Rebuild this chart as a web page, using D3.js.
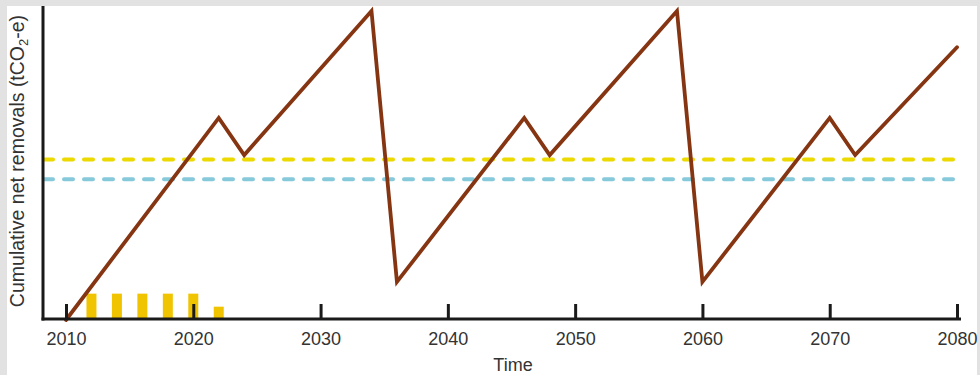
<!DOCTYPE html>
<html>
<head>
<meta charset="utf-8">
<script src="https://cdn.jsdelivr.net/npm/d3@7"></script>
<style>
  html, body { margin: 0; padding: 0; background: #e2e2e2; }
  svg { display: block; }
  text { font-family: "Liberation Sans", Arial, sans-serif; fill: #333; }
</style>
</head>
<body>
<svg id="chart" width="980" height="375"></svg>
<script>
// ---- data ----
const years = [2010, 2022, 2024, 2034, 2036, 2046, 2048, 2058, 2060, 2070, 2072, 2080];
const removals = [0, 65.2, 53.2, 99.7, 12.3, 65.2, 53.2, 99.7, 12.3, 65.2, 53.2, 88];
const barYears = [2012, 2014, 2016, 2018, 2020, 2022];
const barValues = [8.5, 8.5, 8.5, 8.5, 8.5, 4.3];
const yellowLevel = 51.8;
const blueLevel = 45.4;
const tickYears = [2010, 2020, 2030, 2040, 2050, 2060, 2070, 2080];
const xTitle = "Time";

const svg = d3.select("#chart");
svg.append("rect").attr("x", 7).attr("y", 6).attr("width", 970).attr("height", 369).attr("fill", "#ffffff");

const x = d3.scaleLinear().domain([2010, 2080]).range([66, 957]);
const y = d3.scaleLinear().domain([0, 100]).range([320, 10]);
const axisLeftX = 43, axisRightX = 961, axisY = 319;

// bars
svg.append("g").selectAll("rect").data(barYears).join("rect")
  .attr("x", d => x(d) - 5)
  .attr("width", 10)
  .attr("y", (d, i) => y(barValues[i]))
  .attr("height", (d, i) => axisY - y(barValues[i]))
  .attr("fill", "#f0c400");

// dashed lines
const dashes = [[yellowLevel, "#ecd900"], [blueLevel, "#86c9da"]];
svg.append("g").selectAll("line").data(dashes).join("line")
  .attr("x1", axisLeftX + 1).attr("x2", axisRightX)
  .attr("y1", d => y(d[0])).attr("y2", d => y(d[0]))
  .attr("stroke", d => d[1])
  .attr("stroke-width", 4)
  .attr("stroke-linecap", "round")
  .attr("stroke-dasharray", "9 11");

// main line
const line = d3.line().x((d, i) => x(d)).y((d, i) => y(removals[i]));
svg.append("path").datum(years)
  .attr("d", line)
  .attr("fill", "none")
  .attr("stroke", "#863512")
  .attr("stroke-width", 3.8)
  .attr("stroke-linejoin", "miter")
  .attr("stroke-linecap", "round");

// axes
const xAxis = d3.axisBottom(x).tickValues(tickYears).tickFormat(d3.format("d"))
  .tickSizeInner(-15).tickSizeOuter(0).tickPadding(13);
const gx = svg.append("g").attr("transform", `translate(0,${axisY})`).call(xAxis);
gx.select(".domain").remove();
gx.selectAll(".tick line").attr("stroke", "#1a1a1a").attr("stroke-width", 3);
gx.selectAll(".tick text").attr("font-size", 18).attr("fill", "#333")
  .attr("font-family", "Liberation Sans, Arial, sans-serif");

svg.append("line").attr("x1", axisLeftX - 1.5).attr("x2", axisRightX)
  .attr("y1", axisY).attr("y2", axisY)
  .attr("stroke", "#1a1a1a").attr("stroke-width", 3);
svg.append("line").attr("x1", axisLeftX).attr("x2", axisLeftX)
  .attr("y1", 6).attr("y2", axisY + 1.5)
  .attr("stroke", "#1a1a1a").attr("stroke-width", 3);

// titles
svg.append("text").attr("x", 513).attr("y", 371).attr("text-anchor", "middle")
  .attr("font-size", 18).text(xTitle);

const yt = svg.append("text")
  .attr("transform", "translate(24,161) rotate(-90)")
  .attr("text-anchor", "middle").attr("font-size", 19.5);
yt.append("tspan").text("Cumulative net removals (tCO");
yt.append("tspan").attr("font-size", 13).attr("dy", 4).text("2");
yt.append("tspan").attr("dy", -4).text("-e)");
</script>
</body>
</html>
